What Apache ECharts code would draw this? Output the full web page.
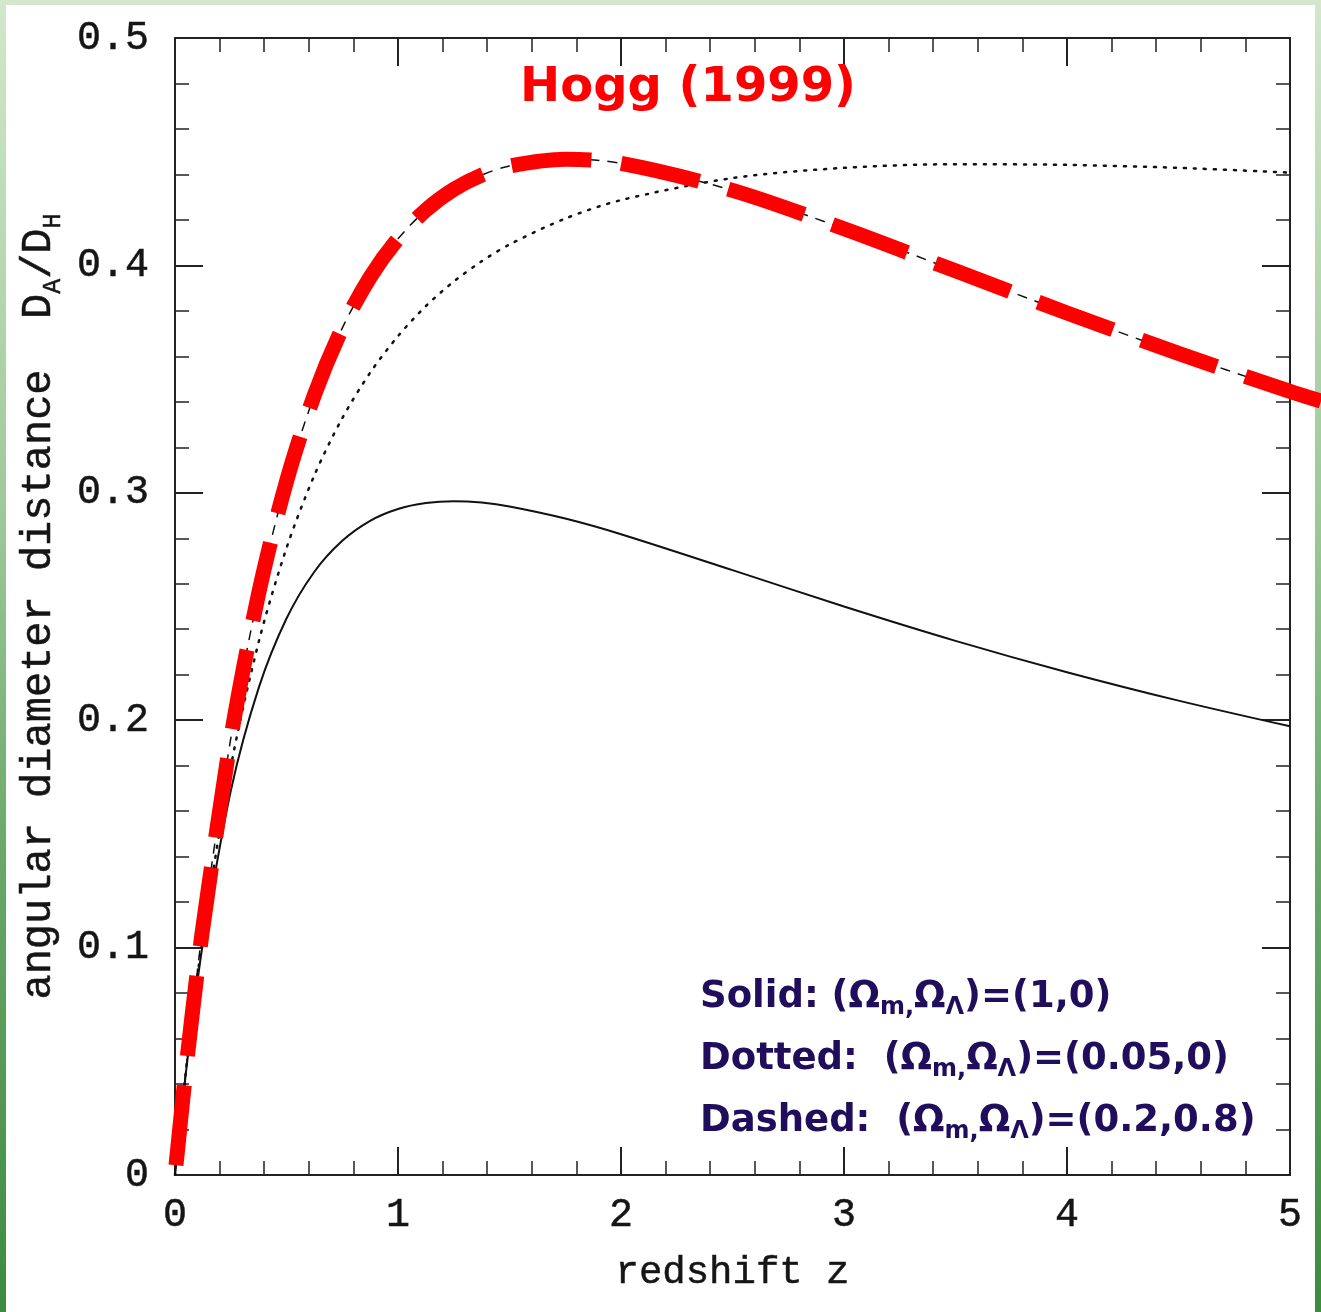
<!DOCTYPE html>
<html>
<head>
<meta charset="utf-8">
<script src="https://cdn.jsdelivr.net/npm/echarts@6/dist/echarts.min.js"></script>
<style>
    html, body { margin: 0; padding: 0; }
    body {
        width: 1321px; height: 1312px; position: relative; overflow: hidden;
        background: linear-gradient(to bottom, #d2e7cb 0%, #9cc897 40%, #6aa86a 65%, #3c8b42 100%);
    }
    #panel { position: absolute; left: 6px; top: 5px; width: 1309px; height: 1307px; background: #fff; }
    #chart { position: absolute; left: 0; top: 0; width: 1321px; height: 1312px; }
</style>
</head>
<body>
<div id="panel"></div>
<div id="chart"></div>
<script>
// redshift grid
const zVals = [0, 0.05, 0.1, 0.125, 0.25, 0.375, 0.5, 0.625, 0.75, 0.875, 1, 1.125, 1.25, 1.375, 1.5, 1.75, 2, 2.5, 3, 3.5, 4, 4.5, 5];

// D_A / D_H for the three cosmologies
const solidVals  = [0, 0.0459, 0.0846, 0.1017, 0.1689, 0.2141, 0.2447, 0.2653, 0.2789, 0.2877, 0.2929, 0.2955, 0.2963, 0.2957, 0.2940, 0.2887, 0.2818, 0.2660, 0.2500, 0.2349, 0.2211, 0.2086, 0.1973];
const dottedVals = [0, 0.0465, 0.0867, 0.1048, 0.1794, 0.2343, 0.2757, 0.3077, 0.3328, 0.3528, 0.3689, 0.3821, 0.3929, 0.4018, 0.4092, 0.4206, 0.4287, 0.4384, 0.4429, 0.4445, 0.4442, 0.4429, 0.4408];
const dashedVals = [0, 0.0473, 0.0895, 0.1089, 0.1919, 0.2557, 0.3050, 0.3430, 0.3724, 0.3948, 0.4117, 0.4243, 0.4334, 0.4397, 0.4437, 0.4467, 0.4449, 0.4330, 0.4161, 0.3976, 0.3791, 0.3613, 0.3446];

// red hand-drawn overlay (runs past the right frame to the page edge)
const redZ    = [0, 0.05, 0.1, 0.125, 0.25, 0.375, 0.5, 0.625, 0.75, 0.875, 1, 1.125, 1.25, 1.375, 1.5, 1.75, 2, 2.5, 3, 3.5, 4, 4.5, 5, 5.139];
const redVals = [0, 0.0473, 0.0895, 0.1089, 0.1919, 0.2557, 0.3050, 0.3430, 0.3724, 0.3948, 0.4117, 0.4243, 0.4334, 0.4397, 0.4437, 0.4467, 0.4449, 0.4330, 0.4161, 0.3976, 0.3791, 0.3613, 0.3446, 0.3403];

const xTicks = [0, 1, 2, 3, 4, 5];

const legendLines = [
    'Solid: (Ω{s|m,}Ω{s|Λ})=(1,0)',
    'Dotted:  (Ω{s|m,}Ω{s|Λ})=(0.05,0)',
    'Dashed:  (Ω{s|m,}Ω{s|Λ})=(0.2,0.8)'
];

function pairs(xs, ys) {
    return xs.map((x, i) => [x, ys[i]]);
}

const axisFont = 'Liberation Mono';
const ink = '#222';
const labelInk = '#151515';

function frameAxis(extra) {
    return Object.assign({
        type: 'value',
        axisLine: { show: true, onZero: false, lineStyle: { color: ink, width: 2 } },
        axisTick: { show: true, inside: true, length: 28, lineStyle: { color: ink, width: 2 } },
        minorTick: { show: true, length: 14, lineStyle: { color: ink, width: 1.5 } },
        splitLine: { show: false },
        minorSplitLine: { show: false }
    }, extra);
}

const chart = echarts.init(document.getElementById('chart'), null, { renderer: 'canvas' });

const option = {
    backgroundColor: 'transparent',
    animation: false,
    grid: [
        { left: 175, right: 31, top: 38, bottom: 137, containLabel: false, outerBoundsMode: 'none' },
        // same scale, stretched to the page edge, for the red overlay
        { left: 175, right: 0, top: 38, bottom: 137, containLabel: false, outerBoundsMode: 'none' }
    ],
    xAxis: [
        frameAxis({
            position: 'bottom', min: 0, max: 5, interval: 1,
            minorTick: { show: true, splitNumber: 5, length: 14, lineStyle: { color: ink, width: 1.5 } },
            axisLabel: {
                show: true, margin: 20, color: labelInk, fontFamily: axisFont, fontSize: 40,
                textBorderColor: labelInk, textBorderWidth: 0.5,
                formatter: v => xTicks.includes(v) ? String(v) : ''
            },
            name: 'redshift z', nameLocation: 'middle', nameGap: 78,
            nameTextStyle: {
                color: labelInk, fontFamily: axisFont, fontSize: 39,
                textBorderColor: labelInk, textBorderWidth: 0.5
            }
        }),
        frameAxis({
            position: 'top', min: 0, max: 5, interval: 1,
            minorTick: { show: true, splitNumber: 5, length: 14, lineStyle: { color: ink, width: 1.5 } },
            axisLabel: { show: false }
        }),
        { type: 'value', gridIndex: 1, min: 0, max: 1146 / 223, show: false }
    ],
    yAxis: [
        frameAxis({
            position: 'left', min: 0, max: 0.5, interval: 0.1,
            axisLabel: {
                show: true, margin: 26, color: labelInk, fontFamily: axisFont, fontSize: 40,
                textBorderColor: labelInk, textBorderWidth: 0.5,
                formatter: v => (Math.abs(v) < 1e-9 ? '0' : v.toFixed(1))
            },
            name: 'angular diameter distance  D{sub|A}/D{sub|H}',
            nameLocation: 'middle', nameGap: 109, nameRotate: 90,
            nameTextStyle: {
                color: labelInk, fontFamily: axisFont, fontSize: 42, lineHeight: 54,
                textBorderColor: labelInk, textBorderWidth: 0.5,
                rich: {
                    sub: {
                        fontFamily: axisFont, fontSize: 25, verticalAlign: 'bottom', lineHeight: 54,
                        color: labelInk, textBorderColor: labelInk, textBorderWidth: 0.5
                    }
                }
            }
        }),
        frameAxis({
            position: 'right', min: 0, max: 0.5, interval: 0.1,
            axisLabel: { show: false }
        }),
        { type: 'value', gridIndex: 1, min: 0, max: 0.5, show: false }
    ],
    series: [
        {
            name: 'solid', type: 'line', data: pairs(zVals, solidVals), smooth: 0.3,
            showSymbol: false, lineStyle: { color: '#111', width: 2 }, z: 3
        },
        {
            name: 'dotted', type: 'line', data: pairs(zVals, dottedVals), smooth: 0.3,
            showSymbol: false, lineStyle: { color: '#111', width: 2.5, type: [2, 8], cap: 'round' }, z: 3
        },
        {
            name: 'dashed', type: 'line', data: pairs(zVals, dashedVals), smooth: 0.3,
            showSymbol: false, lineStyle: { color: '#111', width: 1.5, type: [10, 8] }, z: 3
        },
        {
            name: 'red', type: 'line', xAxisIndex: 2, yAxisIndex: 2,
            data: pairs(redZ, redVals), smooth: 0.3, clip: false,
            showSymbol: false,
            lineStyle: { color: '#ff0000', width: 15, type: [80, 30], dashOffset: 100, cap: 'butt' }, z: 5
        }
    ],
    graphic: [
        {
            type: 'text', x: 688, y: 89, z: 10,
            style: {
                text: 'Hogg (1999)', fill: '#ff0000',
                font: 'bold 48px "DejaVu Sans"', textAlign: 'center', textVerticalAlign: 'middle'
            }
        }
    ].concat(legendLines.map((t, i) => ({
        type: 'text', x: 700, y: 997 + i * 62, z: 10,
        style: {
            text: t, fill: '#200e5c', font: 'bold 37px "DejaVu Sans"', lineHeight: 46,
            textAlign: 'left', textVerticalAlign: 'middle',
            rich: {
                s: { font: 'bold 24px "DejaVu Sans"', fill: '#200e5c', verticalAlign: 'bottom', lineHeight: 46 }
            }
        }
    })))
};

chart.setOption(option);
</script>
</body>
</html>
